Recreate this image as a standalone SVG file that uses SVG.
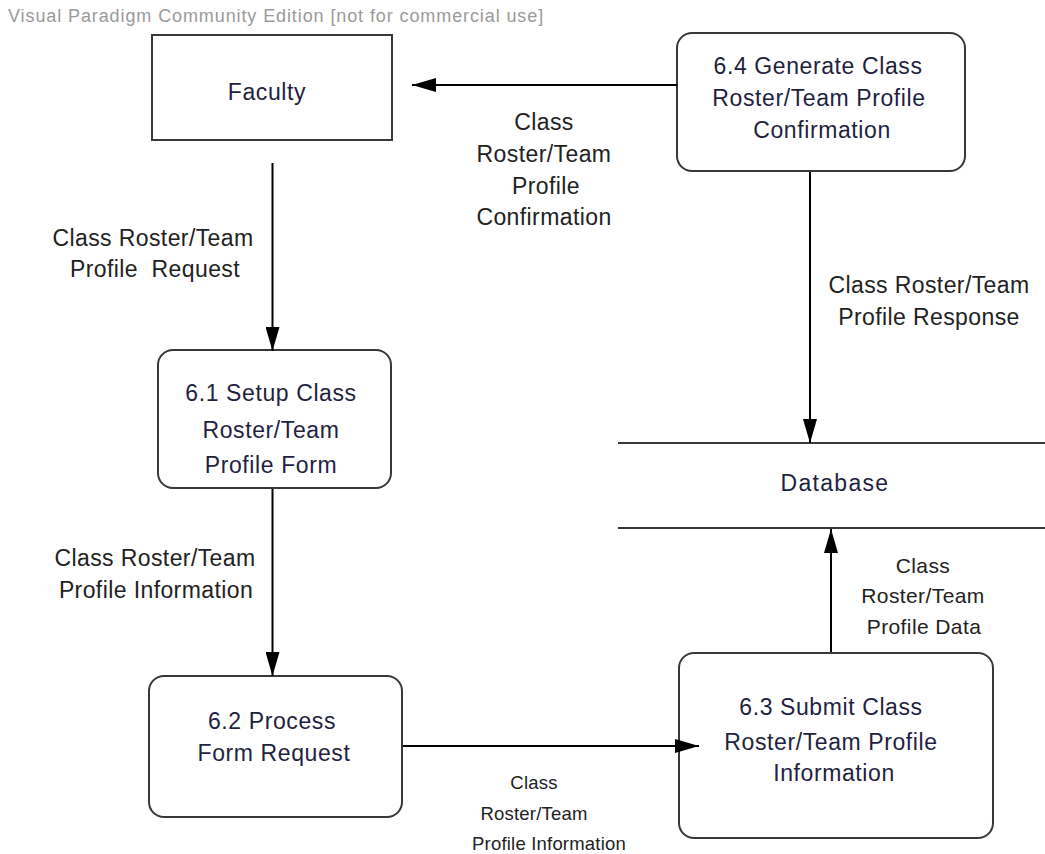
<svg xmlns="http://www.w3.org/2000/svg" width="1045" height="854" viewBox="0 0 1045 854">
  <style>
    .box { fill: #ffffff; stroke: #383838; stroke-width: 2; }
    .proc { fill: #ffffff; stroke: #383838; stroke-width: 2; }
    .store { stroke: #383838; stroke-width: 2; fill: none; }
    .flow { stroke: #000000; stroke-width: 2; fill: none; marker-end: url(#arrow); }
    .ntext { font-family: "Liberation Sans", Arial, sans-serif; font-size: 23px; fill: #231f3f; text-anchor: middle; letter-spacing: 0.6px; }
    .ltext { font-family: "Liberation Sans", Arial, sans-serif; font-size: 23px; fill: #222222; text-anchor: middle; letter-spacing: 0.4px; white-space: pre; }
    .small { font-size: 21px; }
    .tiny { font-size: 18.5px; letter-spacing: 0.2px; }
    .mark { font-family: "Liberation Sans", Arial, sans-serif; font-size: 18px; fill: #9a9a9a; letter-spacing: 0.9px; }
  </style>
  <defs>
    <marker id="arrow" viewBox="0 0 24 14" refX="24" refY="7" markerWidth="24" markerHeight="14" markerUnits="userSpaceOnUse" orient="auto">
      <path d="M0,0 L24,7 L0,14 Z" fill="#000000"/>
    </marker>
  </defs>

  <rect width="1045" height="854" fill="#ffffff"/>
  <text class="mark" x="8" y="22">Visual Paradigm Community Edition [not for commercial use]</text>

  <!-- external entity -->
  <g id="faculty">
    <rect class="box" x="152" y="35" width="240" height="105"/>
    <text class="ntext" x="267" y="100">Faculty</text>
  </g>

  <!-- processes -->
  <g id="p61">
    <rect class="proc" x="158" y="350" width="233" height="138" rx="15" ry="15"/>
    <text class="ntext" x="271" y="401">6.1 Setup Class</text>
    <text class="ntext" x="271" y="438">Roster/Team</text>
    <text class="ntext" x="271" y="473">Profile Form</text>
  </g>

  <g id="p62">
    <rect class="proc" x="149" y="676" width="253" height="141" rx="15" ry="15"/>
    <text class="ntext" x="272" y="729">6.2 Process</text>
    <text class="ntext" x="274" y="761">Form Request</text>
  </g>

  <g id="p63">
    <rect class="proc" x="679" y="653" width="314" height="185" rx="15" ry="15"/>
    <text class="ntext" x="831" y="715">6.3 Submit Class</text>
    <text class="ntext" x="831" y="750">Roster/Team Profile</text>
    <text class="ntext" x="834" y="781">Information</text>
  </g>

  <g id="p64">
    <rect class="proc" x="677" y="33" width="288" height="138" rx="15" ry="15"/>
    <text class="ntext" x="818" y="74">6.4 Generate Class</text>
    <text class="ntext" x="819" y="106">Roster/Team Profile</text>
    <text class="ntext" x="822" y="138">Confirmation</text>
  </g>

  <!-- data store -->
  <g id="database">
    <line class="store" x1="618" y1="443" x2="1045" y2="443"/>
    <line class="store" x1="618" y1="528" x2="1045" y2="528"/>
    <text class="ntext" x="835" y="491" style="letter-spacing:1.3px">Database</text>
  </g>

  <!-- data flows, drawn over the shapes so heads that overlap an edge stay visible -->
  <g id="connectors">
    <line class="flow" x1="677" y1="85" x2="412" y2="85"/>
    <line class="flow" x1="272.5" y1="163" x2="272.5" y2="351"/>
    <line class="flow" x1="272.5" y1="489" x2="272.5" y2="676"/>
    <line class="flow" x1="403" y1="746" x2="699" y2="746"/>
    <line class="flow" x1="831" y1="652" x2="831" y2="529"/>
    <line class="flow" x1="810" y1="172" x2="810" y2="443"/>

    <text class="ltext" x="544" y="130">Class</text>
    <text class="ltext" x="544" y="162">Roster/Team</text>
    <text class="ltext" x="546" y="194">Profile</text>
    <text class="ltext" x="544" y="225">Confirmation</text>

    <text class="ltext" x="153" y="246">Class Roster/Team</text>
    <text class="ltext" x="155" y="277">Profile  Request</text>

    <text class="ltext" x="929" y="293">Class Roster/Team</text>
    <text class="ltext" x="929" y="325">Profile Response</text>

    <text class="ltext" x="155" y="566">Class Roster/Team</text>
    <text class="ltext" x="156" y="598">Profile Information</text>

    <text class="ltext small" x="923" y="573">Class</text>
    <text class="ltext small" x="923" y="603">Roster/Team</text>
    <text class="ltext small" x="924" y="634">Profile Data</text>

    <text class="ltext tiny" x="534" y="789">Class</text>
    <text class="ltext tiny" x="534" y="820">Roster/Team</text>
    <text class="ltext tiny" x="549" y="850">Profile Information</text>
  </g>
</svg>
